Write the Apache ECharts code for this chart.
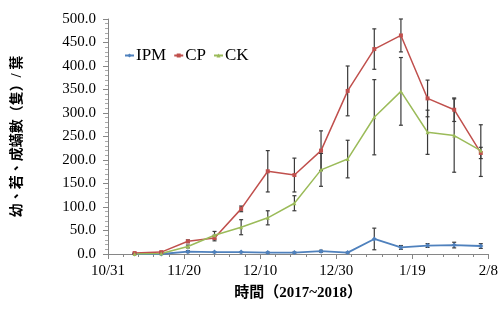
<!DOCTYPE html>
<html>
<head>
<meta charset="utf-8">
<script src="https://cdn.jsdelivr.net/npm/echarts@6/dist/echarts.min.js"></script>
<style>
html,body{margin:0;padding:0;background:#fff;}
#c{width:501px;height:310px;}
</style>
</head>
<body>
<div id="c"></div>
<script>
// ---- data ----
var dates = ['2017-11-07','2017-11-14','2017-11-21','2017-11-28','2017-12-05','2017-12-12','2017-12-19','2017-12-26','2018-01-02','2018-01-09','2018-01-16','2018-01-23','2018-01-30','2018-02-06'];
var ipm    = [0, 0, 5, 4, 4, 3, 3, 6, 3, 32, 14, 18, 19, 17];
var ipmErr = [0, 0, 2, 1, 1, 1, 1, 2, 1, 23, 4, 4, 6, 5];
var cp     = [2, 4, 27, 34, 96, 176, 168, 220, 347, 436, 465, 331, 307, 215];
var cpErr  = [1, 1, 3, 6, 6, 44, 36, 42, 53, 43, 35, 39, 25, 12];
var ck     = [0, 1, 16, 40, 57, 77, 108, 179, 202, 291, 346, 259, 252, 220];
var ckErr  = [0, 1, 3, 8, 16, 15, 16, 35, 40, 80, 72, 47, 78, 55];
var xTickLabels = ['10/31','11/20','12/10','12/30','1/19','2/8'];
var seriesNames = ['IPM','CP','CK'];
var startDate = '2017-10-31';

function dayOffset(s){ return Math.round((Date.parse(s) - Date.parse(startDate)) / 86400000); }
var xs = dates.map(dayOffset);
function pts(vals){ return vals.map(function(v,i){ return [xs[i], v]; }); }
function errPts(vals, errs){ return vals.map(function(v,i){ return [xs[i], v - errs[i], v + errs[i]]; }); }

var serif = "'Times New Roman','Liberation Serif','Noto Sans CJK TC',serif";
var colors = ['#4F81BD','#C0504D','#9BBB59'];

function errSeries(vals, errs, z){
  return {
    type:'custom', silent:true, z:z,
    data: errPts(vals, errs),
    encode:{x:0, y:[1,2]},
    renderItem: function(params, api){
      var x = api.value(0);
      var lo = api.coord([x, api.value(1)]);
      var hi = api.coord([x, api.value(2)]);
      var w = 2;
      var st = {stroke:'#3a3a3a', lineWidth:1.2};
      return {type:'group', children:[
        {type:'line', shape:{x1:lo[0], y1:lo[1], x2:hi[0], y2:hi[1]}, style:st},
        {type:'line', shape:{x1:lo[0]-w, y1:lo[1], x2:lo[0]+w, y2:lo[1]}, style:st},
        {type:'line', shape:{x1:hi[0]-w, y1:hi[1], x2:hi[0]+w, y2:hi[1]}, style:st}
      ]};
    }
  };
}

var chart = echarts.init(document.getElementById('c'), null, {renderer:'canvas'});
chart.setOption({
  animation:false,
  backgroundColor:'#fff',
  grid:{left:108, right:12, top:19, bottom:56, containLabel:false},
  legend:{
    data: seriesNames,
    left:119, top:42,
    itemWidth:9, itemHeight:5, itemGap:7,
    textStyle:{fontFamily:serif, fontSize:17, color:'#000', padding:[0,0,0,-3]}
  },
  xAxis:{
    type:'value', min:0, max:100, interval:20,
    name:'時間（2017~2018）', nameLocation:'middle', nameGap:32,
    nameTextStyle:{fontFamily:serif, fontSize:15, fontWeight:'bold', color:'#000'},
    axisLine:{show:true, lineStyle:{color:'#868686', width:1}},
    axisTick:{show:true, length:5, lineStyle:{color:'#868686'}},
    minorTick:{show:true, splitNumber:5, length:3, lineStyle:{color:'#868686'}},
    splitLine:{show:false},
    axisLabel:{fontFamily:serif, fontSize:15, color:'#000', margin:10,
      formatter:function(v){ return xTickLabels[Math.round(v/20)] || ''; }}
  },
  yAxis:{
    type:'value', min:0, max:500, interval:50,
    name:'幼、若、成蟎數（隻）/ 葉', nameLocation:'middle', nameGap:84, nameRotate:90,
    nameTextStyle:{fontFamily:serif, fontSize:14, fontWeight:'bold', color:'#000'},
    axisLine:{show:true, lineStyle:{color:'#868686', width:1}},
    axisTick:{show:true, length:5, lineStyle:{color:'#868686'}},
    minorTick:{show:true, splitNumber:5, length:3, lineStyle:{color:'#aaaaaa'}},
    splitLine:{show:false},
    axisLabel:{fontFamily:serif, fontSize:15, color:'#000', margin:12,
      formatter:function(v){ return v.toFixed(1); }}
  },
  series:[
    errSeries(ipm, ipmErr, 1),
    errSeries(cp, cpErr, 1),
    errSeries(ck, ckErr, 1),
    {name:seriesNames[0], type:'line', data:pts(ipm), z:3, symbol:'diamond', symbolSize:5,
      lineStyle:{color:colors[0], width:1.8}, itemStyle:{color:colors[0]}},
    {name:seriesNames[1], type:'line', data:pts(cp), z:3, symbol:'rect', symbolSize:4,
      lineStyle:{color:colors[1], width:1.5}, itemStyle:{color:colors[1]}},
    {name:seriesNames[2], type:'line', data:pts(ck), z:3, symbol:'triangle', symbolSize:4,
      lineStyle:{color:colors[2], width:1.5}, itemStyle:{color:colors[2]}}
  ]
});
</script>
</body>
</html>
